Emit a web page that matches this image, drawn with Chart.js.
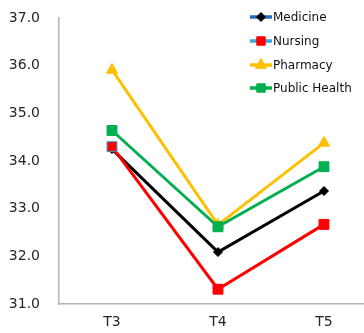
<!DOCTYPE html>
<html>
<head>
<meta charset="utf-8">
<script src="https://cdn.jsdelivr.net/npm/chart.js@4/dist/chart.umd.min.js"></script>
<style>
  html, body { margin: 0; padding: 0; background: #fff; overflow: hidden; }
  #wrap { width: 364px; height: 333px; overflow: hidden; }
  canvas { display: block; }
</style>
</head>
<body>
<div id="wrap"><canvas id="c" width="385" height="333"></canvas></div>
<script>
// Survey waves on the x axis
const categories = ['T3', 'T4', 'T5'];

// Mean scores per faculty
const medicine     = [34.25, 32.09, 33.37];
const nursing      = [34.30, 31.31, 32.67];
const pharmacy     = [35.91, 32.66, 34.38];
const publicHealth = [34.64, 32.62, 33.88];

// Value axis range
const yMin = 31;
const yMax = 37;
const yStep = 1;

const TICK_FONT = { family: 'DejaVu Sans', size: 14 };
const LEGEND_FONT = '12px "DejaVu Sans"';

const series = [
  { label: 'Medicine', data: medicine, color: '#000000', point: 'rectRot', radius: 4.5,
    pointFill: '#000000', pointBorder: '#000000', legendLine: '#1f6fc4', order: 4 },
  { label: 'Nursing', data: nursing, color: '#ff0000', point: 'rect', radius: 7,
    pointFill: '#ff0000', pointBorder: ['#2e9bd8', '#ff0000', '#ff0000'], legendLine: '#33a9e0', order: 3 },
  { label: 'Pharmacy', data: pharmacy, color: '#ffc000', point: 'triangle', radius: 6.5,
    pointFill: '#ffc000', pointBorder: '#ffc000', legendLine: '#ffc000', order: 2 },
  { label: 'Public Health', data: publicHealth, color: '#00b050', point: 'rect', radius: 7,
    pointFill: '#00b050', pointBorder: '#00b050', legendLine: '#00b050', order: 1 }
];

// Small marker painter for the legend keys
function drawMarker(ctx, style, x, y, r, fill, stroke) {
  ctx.save();
  ctx.fillStyle = fill;
  ctx.strokeStyle = stroke;
  ctx.lineWidth = 1;
  ctx.beginPath();
  if (style === 'rect') {
    const s = r * Math.SQRT1_2;
    ctx.rect(x - s, y - s, 2 * s, 2 * s);
  } else if (style === 'rectRot') {
    ctx.moveTo(x, y - r); ctx.lineTo(x + r, y); ctx.lineTo(x, y + r); ctx.lineTo(x - r, y);
    ctx.closePath();
  } else if (style === 'triangle') {
    for (let i = 0; i < 3; i++) {
      const a = i * 2 * Math.PI / 3;
      const px = x + Math.sin(a) * r, py = y - Math.cos(a) * r;
      if (i === 0) ctx.moveTo(px, py); else ctx.lineTo(px, py);
    }
    ctx.closePath();
  }
  ctx.fill();
  ctx.stroke();
  ctx.restore();
}

const lineLegend = {
  id: 'lineLegend',
  afterDraw(chart) {
    const ctx = chart.ctx;
    const x0 = 250, lineLen = 22, textX = 273;
    const rows = [17, 41, 65, 88];
    ctx.save();
    ctx.font = LEGEND_FONT;
    ctx.textBaseline = 'middle';
    ctx.textAlign = 'left';
    series.forEach((s, i) => {
      const y = rows[i];
      ctx.strokeStyle = s.legendLine;
      ctx.lineWidth = 3.5;
      ctx.beginPath();
      ctx.moveTo(x0, y);
      ctx.lineTo(x0 + lineLen, y);
      ctx.stroke();
      const border = Array.isArray(s.pointBorder) ? s.pointFill : s.pointBorder;
      const r = s.point === 'rect' ? s.radius * 0.85 : s.radius;
      drawMarker(ctx, s.point, x0 + lineLen / 2, y, r, s.pointFill, border);
      ctx.fillStyle = '#111111';
      ctx.fillText(s.label, textX, y + 1);
    });
    ctx.restore();
  }
};

new Chart(document.getElementById('c'), {
  type: 'line',
  data: {
    labels: categories,
    datasets: series.map(s => ({
      label: s.label,
      data: s.data,
      borderColor: s.color,
      borderWidth: 3,
      backgroundColor: s.pointFill,
      pointStyle: s.point,
      pointRadius: s.radius,
      pointBackgroundColor: s.pointFill,
      pointBorderColor: s.pointBorder,
      pointBorderWidth: 1,
      tension: 0,
      fill: false,
      order: s.order
    }))
  },
  options: {
    responsive: false,
    devicePixelRatio: 1,
    animation: false,
    layout: { padding: { top: 18, left: 0, right: 0, bottom: 0 } },
    plugins: {
      legend: { display: false },
      tooltip: { enabled: false }
    },
    scales: {
      x: {
        type: 'category',
        offset: true,
        grid: { display: false, drawTicks: false },
        border: { display: true, color: '#b3b3b3', width: 1.5 },
        ticks: { color: '#262626', font: TICK_FONT, padding: 10 },
        afterFit(scale) { scale.height = 29; scale.paddingLeft = 0; scale.paddingRight = 0; }
      },
      y: {
        min: yMin,
        max: yMax,
        grid: { display: false, drawTicks: false },
        border: { display: true, color: '#b3b3b3', width: 1.5 },
        ticks: {
          stepSize: yStep,
          color: '#262626',
          font: TICK_FONT,
          padding: 19,
          callback: v => Number(v).toFixed(1)
        },
        afterFit(scale) { scale.width = 59; scale.paddingTop = 0; scale.paddingBottom = 0; }
      }
    }
  },
  plugins: [lineLegend]
});
</script>
</body>
</html>
